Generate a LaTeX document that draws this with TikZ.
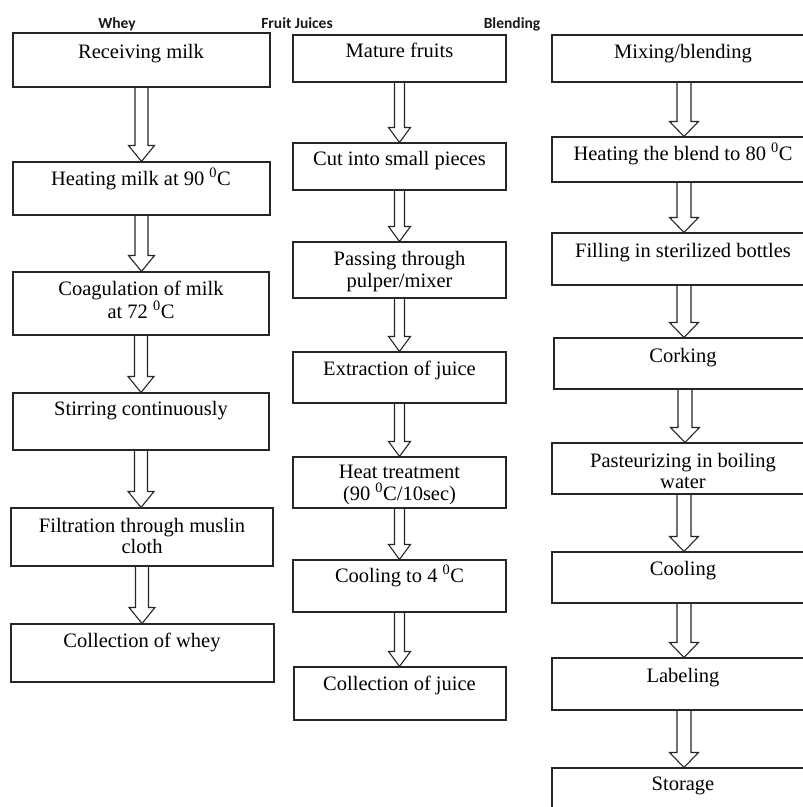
\documentclass[tikz,border=0pt]{standalone}
\usepackage{fontspec}
\setmainfont{Liberation Serif}
\newfontfamily\titlefont{Carlito}
\usetikzlibrary{calc}
\newcommand\dg{\textsuperscript{0}}
\tikzset{
  box/.style={draw=black!85, line width=1.1pt, rectangle, inner sep=0pt},
  txt/.style={font=\fontsize{20.5}{23}\selectfont, anchor=base, inner sep=0pt},
  ttl/.style={font=\titlefont\bfseries\fontsize{15.5}{18}\selectfont, anchor=base, inner sep=0pt, text=black!90},
  barrow/.style n args={3}{draw=black!85, line width=1.1pt, line join=miter,
    to path={let \p1=(\tikztostart), \p2=(\tikztotarget) in
      (\x1-#1,\y1) -- (\x1-#1,\y2+#3) -- (\x1-#2,\y2+#3) -- (\x1,\y2)
      -- (\x1+#2,\y2+#3) -- (\x1+#1,\y2+#3) -- (\x1+#1,\y1)}},
  arrA/.style={barrow={6.5pt}{13pt}{16pt}},
  arrB/.style={barrow={5pt}{11pt}{15pt}},
  arrC/.style={barrow={7pt}{14.5pt}{15pt}},
}
% name, left, top, right, bottom
\newcommand\flowbox[5]{\node[box, minimum width={#4-#2}, minimum height={#5-#3}] (#1) at ({(#2+#4)/2},{(#3+#5)/2}) {};}
\begin{document}
\begin{tikzpicture}[x=1pt,y=-1pt]
\clip (0,0) rectangle (803,807);
\fill[white] (0,0) rectangle (803,807);

% titles
\node[ttl] (tw) at (117,28) {Whey};
\node[ttl] (tf) at (297,28) {Fruit Juices};
\node[ttl] (tb) at (512,28) {Blending};

% Column 1: Whey
\flowbox{w1}{13}{33}{270}{87}
\flowbox{w2}{13}{162}{270}{215}
\flowbox{w3}{13}{272}{269}{335}
\flowbox{w4}{13}{393}{269}{450}
\flowbox{w5}{11}{508}{273}{566}
\flowbox{w6}{11}{624}{274}{682}
\node[txt] (w1t) at (141,58) {Receiving milk};
\node[txt] (w2t) at (141,185) {Heating milk at 90 \dg C};
\node[txt] (w3t) at (141,295) {Coagulation of milk};
\node[txt] (w3u) at (141,318) {at 72 \dg C};
\node[txt] (w4t) at (141,415) {Stirring continuously};
\node[txt] (w5t) at (142,532) {Filtration through muslin};
\node[txt] (w5u) at (142,553) {cloth};
\node[txt] (w6t) at (142,647) {Collection of whey};
\draw[arrA] (w1.south) to (w2.north);
\draw[arrA] (w2.south) to (w3.north);
\draw[arrA] (w3.south) to (w4.north);
\draw[arrA] (w4.south) to (w5.north);
\draw[arrA] (w5.south) to (w6.north);

% Column 2: Fruit Juices
\flowbox{f1}{293}{35}{506}{82}
\flowbox{f2}{293}{143}{506}{190}
\flowbox{f3}{293}{242}{506}{298}
\flowbox{f4}{293}{352}{506}{403}
\flowbox{f5}{293}{457}{506}{508}
\flowbox{f6}{293}{560}{506}{612}
\flowbox{f7}{294}{667}{506}{720}
\node[txt] (f1t) at (399.5,57) {Mature fruits};
\node[txt] (f2t) at (399.5,165) {Cut into small pieces};
\node[txt] (f3t) at (399.5,265) {Passing through};
\node[txt] (f3u) at (399.5,287) {pulper/mixer};
\node[txt] (f4t) at (399.5,375) {Extraction of juice};
\node[txt] (f5t) at (399.5,478) {Heat treatment};
\node[txt] (f5u) at (399.5,500) {(90 \dg C/10sec)};
\node[txt] (f6t) at (399.5,582) {Cooling to 4 \dg C};
\node[txt] (f7t) at (399.5,690) {Collection of juice};
\draw[arrB] (f1.south) to (f2.north);
\draw[arrB] (f2.south) to (f3.north);
\draw[arrB] (f3.south) to (f4.north);
\draw[arrB] (f4.south) to (f5.north);
\draw[arrB] (f5.south) to (f6.north);
\draw[arrB] (f6.south) to (f7.north);

% Column 3: Blending
\flowbox{b1}{552}{35}{816}{82}
\flowbox{b2}{552}{137}{816}{182}
\flowbox{b3}{552}{233}{816}{285}
\flowbox{b4}{554}{338}{816}{389}
\flowbox{b5}{552}{443}{816}{494}
\flowbox{b6}{552}{552}{816}{603}
\flowbox{b7}{552}{658}{816}{710}
\flowbox{b8}{552}{768}{816}{830}
\node[txt] (b1t) at (683,58) {Mixing/blending};
\node[txt] (b2t) at (683,160) {Heating the blend to 80 \dg C};
\node[txt] (b3t) at (683,257) {Filling in sterilized bottles};
\node[txt] (b4t) at (683,362) {Corking};
\node[txt] (b5t) at (683,467) {Pasteurizing in boiling};
\node[txt] (b5u) at (683,488) {water};
\node[txt] (b6t) at (683,575) {Cooling};
\node[txt] (b7t) at (683,682) {Labeling};
\node[txt] (b8t) at (683,790) {Storage};
\draw[arrC] (b1.south) to (b2.north);
\draw[arrC] (b2.south) to (b3.north);
\draw[arrC] (b3.south) to (b4.north);
\draw[arrC] (b4.south) to (b5.north);
\draw[arrC] (b5.south) to (b6.north);
\draw[arrC] (b6.south) to (b7.north);
\draw[arrC] (b7.south) to (b8.north);
\end{tikzpicture}
\end{document}
